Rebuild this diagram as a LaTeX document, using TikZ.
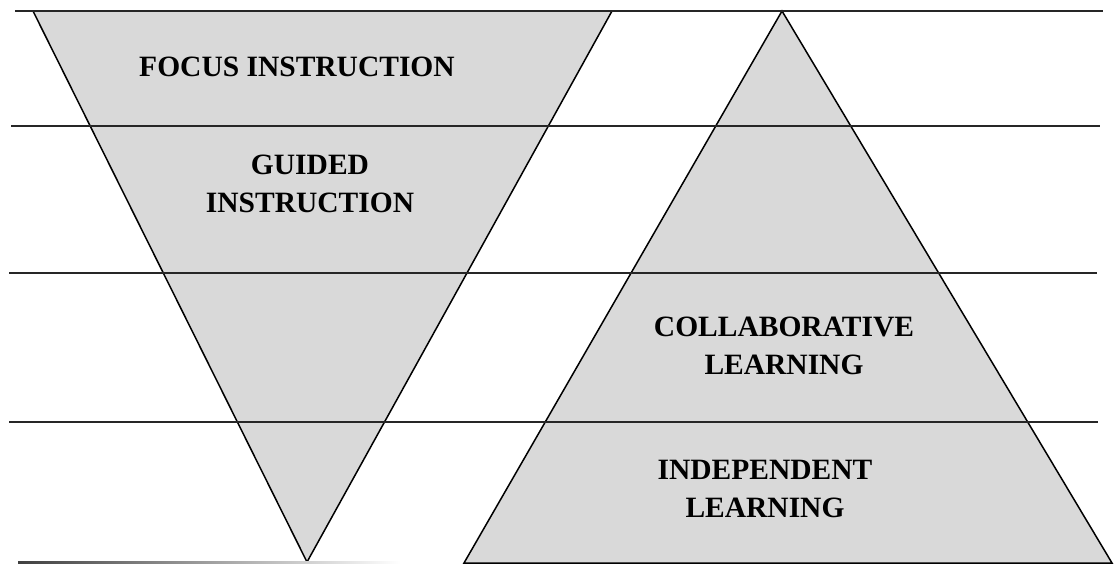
\documentclass[tikz,border=0pt]{standalone}
\usepackage{fontspec}
\setmainfont{Liberation Serif}
\definecolor{levelgray}{HTML}{D9D9D9}
\tikzset{
    level/.style={fill=levelgray, draw=black, line width=1.5pt, line join=miter},
    rule/.style={line width=2.4pt, black!85},
    stage/.style={font=\bfseries\fontsize{29.5}{38}\selectfont, align=center, inner sep=0pt}
}
\begin{document}
\begin{tikzpicture}[x=1pt, y=-1pt]
                \useasboundingbox (0,0) rectangle (1115,563);
                % triangles
                \draw[level] (33,11) -- (612,11) -- (307,562) -- cycle;
                \draw[level] (782,11) -- (1112,563) -- (464,563) -- cycle;
                % horizontal rules
                \draw[rule] (15,11) -- (1103,11);
                \draw[rule] (11,126) -- (1100,126);
                \draw[rule] (9,273) -- (1097,273);
                \draw[rule] (9,422) -- (1098,422);
                \shade[left color=black!75, right color=white] (18,561) rectangle (400,563);
                % labels
                \node[stage] (focus) at (297,67) {FOCUS INSTRUCTION};
                \node[stage] (guided) at (310,184) {GUIDED\\INSTRUCTION};
                \node[stage] (collab) at (784,346) {COLLABORATIVE\\LEARNING};
                \node[stage] (indep) at (765,489) {INDEPENDENT\\LEARNING};
            \end{tikzpicture}
\end{document}
